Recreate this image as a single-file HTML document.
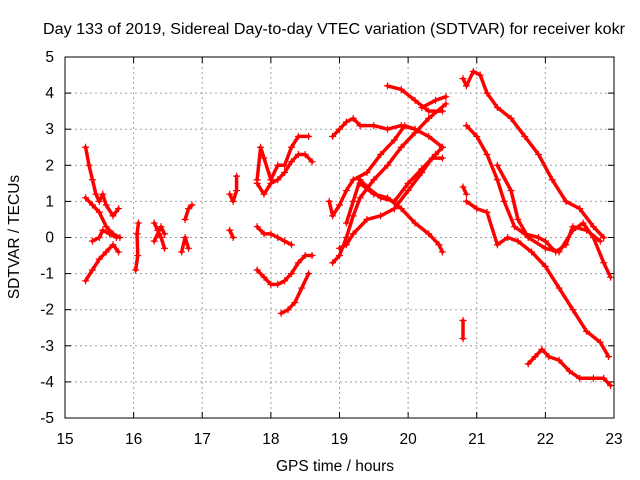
<!DOCTYPE html>
<html><head><meta charset="utf-8"><style>
body{margin:0;background:#fff}
svg{display:block;font-family:"Liberation Sans",sans-serif}
</style></head><body>
<svg id="chart" width="640" height="480" xmlns="http://www.w3.org/2000/svg">
<rect width="640" height="480" fill="#fff"/>
<text x="334" y="34" font-size="15.5" text-anchor="middle" textLength="582" lengthAdjust="spacingAndGlyphs">Day 133 of 2019, Sidereal Day-to-day VTEC variation (SDTVAR) for receiver kokr</text>
<text x="335" y="471" font-size="15.5" text-anchor="middle">GPS time / hours</text>
<text transform="translate(19,237) rotate(-90)" font-size="15.5" text-anchor="middle">SDTVAR / TECUs</text>
<g id="grid"></g><g id="ticks"></g><g id="marks"></g>
<rect x="65" y="57" width="549" height="361" fill="none" stroke="#000" stroke-width="1"/>
</svg>
<script>
const xTicks=[15,16,17,18,19,20,21,22,23];
const yTicks=[-5,-4,-3,-2,-1,0,1,2,3,4,5];
const tracks=[
[[15.3,2.5],[15.35,2.0],[15.4,1.6],[15.45,1.2],[15.5,1.0],[15.55,1.2],[15.6,0.9],[15.7,0.6],[15.78,0.8]],
[[15.3,1.1],[15.4,0.9],[15.5,0.7],[15.6,0.3],[15.7,0.1],[15.8,0.0]],
[[15.3,-1.2],[15.4,-0.9],[15.5,-0.6],[15.6,-0.4],[15.7,-0.2],[15.78,-0.4]],
[[15.4,-0.1],[15.5,0.0],[15.55,0.2],[15.65,0.1],[15.75,0.0]],
[[16.03,-0.9],[16.06,-0.5],[16.05,0.1],[16.07,0.4]],
[[16.3,0.4],[16.35,0.2],[16.4,0.0],[16.45,-0.3]],
[[16.3,-0.1],[16.4,0.3],[16.45,0.1]],
[[16.7,-0.4],[16.75,0.0],[16.8,-0.3]],
[[16.75,0.5],[16.8,0.8],[16.85,0.9]],
[[17.4,0.2],[17.45,0.0]],
[[17.4,1.2],[17.45,1.0],[17.5,1.3],[17.5,1.7]],
[[17.8,1.6],[17.85,2.5],[17.9,2.2],[18.0,1.6],[18.1,2.0],[18.2,2.0],[18.3,2.5],[18.4,2.8],[18.55,2.8]],
[[17.8,1.5],[17.9,1.2],[18.0,1.5],[18.1,1.6],[18.2,1.8],[18.3,2.1],[18.4,2.3],[18.5,2.3],[18.6,2.1]],
[[17.8,0.3],[17.9,0.1],[18.0,0.1],[18.1,0.0],[18.2,-0.1],[18.3,-0.2]],
[[17.8,-0.9],[17.9,-1.1],[18.0,-1.3],[18.1,-1.3],[18.2,-1.2],[18.3,-1.0],[18.4,-0.7],[18.5,-0.5],[18.6,-0.5]],
[[18.15,-2.1],[18.25,-2.0],[18.35,-1.8],[18.45,-1.4],[18.55,-1.0]],
[[18.9,2.8],[19.0,3.0],[19.1,3.2],[19.2,3.3],[19.3,3.1],[19.5,3.1],[19.7,3.0],[19.9,3.1],[20.1,3.0],[20.3,2.8],[20.5,2.5]],
[[19.7,4.2],[19.9,4.1],[20.1,3.8],[20.3,3.5],[20.5,3.5]],
[[20.2,3.6],[20.4,3.8],[20.55,3.9]],
[[18.9,-0.7],[19.0,-0.5],[19.1,0.0],[19.2,0.6],[19.3,1.1],[19.5,1.6],[19.7,2.0],[19.9,2.5],[20.1,2.9],[20.3,3.3],[20.55,3.7]],
[[18.85,1.0],[18.9,0.6],[19.0,0.9],[19.1,1.3],[19.2,1.6],[19.4,1.8],[19.6,2.3],[19.8,2.7],[19.95,3.1],[20.1,3.0]],
[[19.1,0.4],[19.2,1.0],[19.3,1.6],[19.4,1.4],[19.6,1.1],[19.8,1.0],[20.0,1.5],[20.2,1.9],[20.4,2.3],[20.5,2.5]],
[[19.0,-0.3],[19.1,-0.2],[19.2,0.1],[19.4,0.5],[19.6,0.6],[19.8,0.8],[20.0,1.3],[20.2,1.8],[20.35,2.2],[20.5,2.2]],
[[19.3,1.5],[19.5,1.2],[19.7,1.1],[19.9,0.8],[20.1,0.4],[20.3,0.1],[20.45,-0.2],[20.5,-0.4]],
[[20.8,-2.8],[20.8,-2.3]],
[[20.8,1.4],[20.85,1.2]],
[[20.8,4.4],[20.85,4.2],[20.95,4.6],[21.05,4.5],[21.15,4.0],[21.3,3.6],[21.5,3.3],[21.7,2.8],[21.9,2.3],[22.1,1.6],[22.3,1.0],[22.5,0.8],[22.7,0.3],[22.85,0.0]],
[[20.85,3.1],[21.0,2.8],[21.15,2.3],[21.3,1.6],[21.4,1.0],[21.55,0.3],[21.7,0.1],[21.9,0.0],[22.0,-0.1],[22.15,-0.4],[22.3,-0.2],[22.4,0.3],[22.6,0.2],[22.8,-0.1]],
[[20.85,1.0],[21.0,0.8],[21.15,0.7],[21.3,-0.2],[21.45,0.0],[21.6,-0.1],[21.8,-0.4],[22.0,-0.8],[22.2,-1.4],[22.4,-2.0],[22.6,-2.6],[22.8,-2.9],[22.92,-3.3]],
[[21.3,2.0],[21.5,1.3],[21.6,0.5],[21.75,0.0],[22.0,-0.3],[22.2,-0.4],[22.4,0.2],[22.55,0.4],[22.7,0.0],[22.85,-0.7],[22.95,-1.1]],
[[21.75,-3.5],[21.85,-3.3],[21.95,-3.1],[22.05,-3.3],[22.2,-3.4],[22.35,-3.7],[22.5,-3.9],[22.7,-3.9],[22.85,-3.9],[22.95,-4.1]]
];
const NS="http://www.w3.org/2000/svg";
const X0=65,X1=614,Y0=418,Y1=57;
function sx(v){return X0+(v-15)/(23-15)*(X1-X0);}
function sy(v){return Y0-(v+5)/10*(Y0-Y1);}
function mk(t,a,p){const e=document.createElementNS(NS,t);for(const k in a)e.setAttribute(k,a[k]);p.appendChild(e);return e;}
const grid=document.getElementById('grid'),ticks=document.getElementById('ticks'),marks=document.getElementById('marks');
xTicks.forEach(v=>{const x=sx(v);
 if(v>15&&v<23){const g=mk('line',{x1:x,x2:x,y1:Y1,y2:Y0,stroke:'#a0a0a0','stroke-dasharray':'2,3'},grid);
 }
 mk('line',{x1:x,x2:x,y1:Y0,y2:Y0-6,stroke:'#000'},ticks);mk('line',{x1:x,x2:x,y1:Y1,y2:Y1+6,stroke:'#000'},ticks);
 const t=mk('text',{x:x,y:Y0+26,'font-size':15.5,'text-anchor':'middle'},ticks);t.textContent=v;
 });
yTicks.forEach(v=>{const y=sy(v);
 if(v>-5&&v<5){const g=mk('line',{x1:X0,x2:X1,y1:y,y2:y,stroke:'#a0a0a0','stroke-dasharray':'2,3'},grid);
 }
 mk('line',{x1:X0,x2:X0+6,y1:y,y2:y,stroke:'#000'},ticks);mk('line',{x1:X1,x2:X1-6,y1:y,y2:y,stroke:'#000'},ticks);
 const t=mk('text',{x:X0-11,y:y+5,'font-size':15.5,'text-anchor':'end'},ticks);t.textContent=v;
 });
tracks.forEach((tr,i)=>{
 const g=mk('g',{},marks);
 
 
 if(tr.length>1){mk('polyline',{points:tr.map(p=>sx(p[0])+','+sy(p[1])).join(' '),fill:'none',stroke:'#f00','stroke-width':3.5,'stroke-linejoin':'round','stroke-linecap':'round'},g);}
 tr.forEach(p=>{const x=sx(p[0]),y=sy(p[1]);
  const pt=mk('path',{d:`M${x-3.5},${y}H${x+3.5}M${x},${y-3.5}V${y+3.5}`,stroke:'#f00','stroke-width':1.2},g);
  
  });
});
</script>
</body></html>
